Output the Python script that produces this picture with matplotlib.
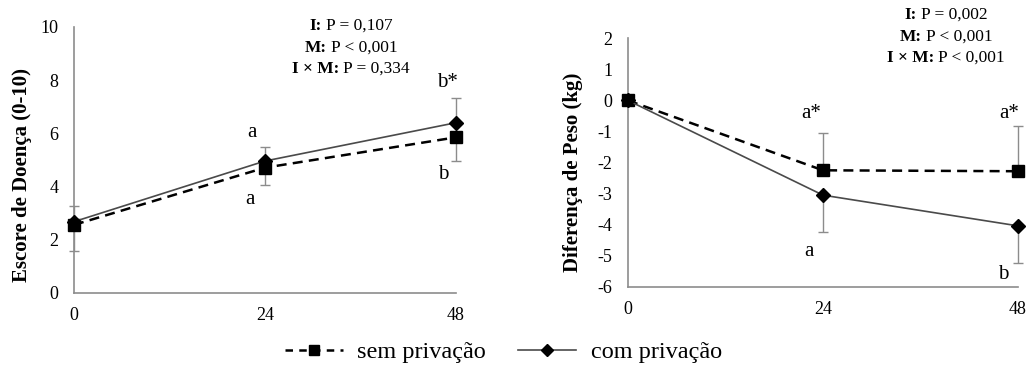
import matplotlib.pyplot as plt
from matplotlib.lines import Line2D
from matplotlib.offsetbox import TextArea, HPacker, VPacker, AnnotationBbox

plt.rcParams['font.family'] = ['Liberation Serif', 'DejaVu Serif']
plt.rcParams['axes.unicode_minus'] = False

# dados
horas = [0, 24, 48]

escore_sem = [2.56, 4.71, 5.85]
escore_sem_inf = [1.0, 0.65, 0.89]
escore_com = [2.68, 4.96, 6.40]
escore_com_sup = [0.6, 0.54, 0.94]

peso_sem = [0, -2.25, -2.28]
peso_sem_sup = [0, 1.2, 1.47]
peso_com = [0, -3.05, -4.04]
peso_com_inf = [0, 1.18, 1.21]

stats_esq = [('I:', 'P = 0,107'), ('M:', 'P < 0,001'), ('I × M:', 'P = 0,334')]
stats_dir = [('I:', 'P = 0,002'), ('M:', 'P < 0,001'), ('I × M:', 'P < 0,001')]

letras_esq = [(22.4, 6.05, 'a'), (22.1, 3.5, 'a'), (46.9, 7.9, 'b*'), (46.4, 4.44, 'b')]
letras_dir = [(22.6, -0.41, 'a*'), (22.3, -4.85, 'a'), (46.9, -0.41, 'a*'), (46.2, -5.62, 'b')]

cinza = '#8c8c8c'
linha_com = '#4a4a4a'

fig = plt.figure(figsize=(10.29, 3.69), dpi=100)
ax1 = fig.add_axes([0.0719, 0.206, 0.3712, 0.721])
ax2 = fig.add_axes([0.6103, 0.223, 0.379, 0.673])


def painel(ax, sem, sem_err, sem_up, com, com_err, com_up, ylim, yticks, ylabel, letras):
    zeros = [0] * len(horas)
    e_sem = [zeros, sem_err] if sem_up else [sem_err, zeros]
    e_com = [zeros, com_err] if com_up else [com_err, zeros]
    ax.errorbar(horas, sem, yerr=e_sem, fmt='none', ecolor=cinza, elinewidth=1,
                capsize=3.5, capthick=1, clip_on=False, zorder=2)
    ax.errorbar(horas, com, yerr=e_com, fmt='none', ecolor=cinza, elinewidth=1,
                capsize=3.5, capthick=1, clip_on=False, zorder=2)
    ax.plot(horas, com, color=linha_com, lw=1.2, marker='D', ms=7, mfc='black',
            mec='black', clip_on=False, zorder=4)
    ax.plot(horas, sem, color='black', lw=1.8, ls=(0, (4, 2.5)), marker='s', ms=8,
            mfc='black', mec='black', clip_on=False, zorder=3)
    ax.set_xlim(0, 48)
    ax.set_ylim(*ylim)
    ax.set_xticks(horas)
    ax.set_yticks(yticks)
    ax.tick_params(length=0, labelsize=13)
    ax.tick_params(axis='y', pad=11)
    ax.tick_params(axis='x', pad=10)
    for s in ['top', 'right']:
        ax.spines[s].set_visible(False)
    for s in ['left', 'bottom']:
        ax.spines[s].set_color(cinza)
        ax.spines[s].set_linewidth(1.2)
    ax.set_ylabel(ylabel, fontsize=15, fontweight='bold')
    for x, y, t in letras:
        ax.text(x, y, t, fontsize=15, ha='center', va='center')


painel(ax1, escore_sem, escore_sem_inf, False, escore_com, escore_com_sup, True,
       (0, 10), [0, 2, 4, 6, 8, 10], 'Escore de Doença (0-10)', letras_esq)
painel(ax2, peso_sem, peso_sem_sup, True, peso_com, peso_com_inf, False,
       (-6, 2), list(range(-6, 3)), 'Diferença de Peso (kg)', letras_dir)
ax1.yaxis.set_label_coords(-0.11, 0.444)
ax2.yaxis.set_label_coords(-0.116, 0.46)


def bloco(stats, x, y):
    linhas = []
    for b, r in stats:
        linhas.append(HPacker(children=[
            TextArea(b, textprops=dict(fontsize=12.5, fontweight='bold')),
            TextArea(r, textprops=dict(fontsize=12.5))], pad=0, sep=3))
    caixa = VPacker(children=linhas, align='center', pad=0, sep=4)
    ab = AnnotationBbox(caixa, (x / 1029, 1 - y / 369), xycoords='figure fraction',
                        frameon=False, box_alignment=(0.5, 1))
    fig.add_artist(ab)


bloco(stats_esq, 351, 18)
bloco(stats_dir, 946, 7)

h_sem = Line2D([], [], color='black', lw=1.8, ls=(0, (3, 2.5)), marker='s', ms=7)
h_com = Line2D([], [], color=linha_com, lw=1.2, marker='D', ms=6, mfc='black', mec='black')
fig.legend([h_sem, h_com], ['sem privação', 'com privação'], loc='center',
           bbox_to_anchor=(0.489, 0.045), ncol=2, frameon=False, fontsize=17.5,
           handlelength=2.4, columnspacing=1.3, handletextpad=0.6)

fig.savefig('out.png', dpi=100)
